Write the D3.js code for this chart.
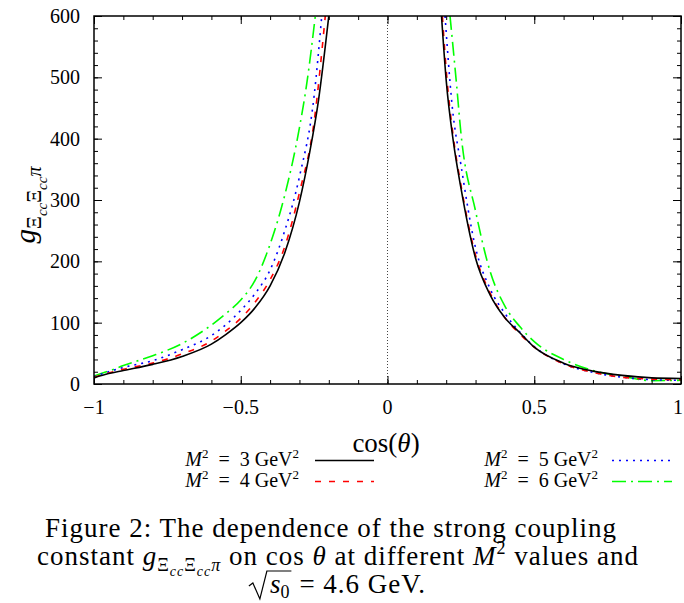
<!DOCTYPE html>
<html>
<head>
<meta charset="utf-8">
<script src="https://cdn.jsdelivr.net/npm/d3@7"></script>
<style>
  html, body { margin: 0; padding: 0; background: #fff; }
  svg { display: block; }
  text { font-family: "Liberation Serif", "DejaVu Serif", serif; fill: #000; }
</style>
</head>
<body>
<div id="chart"></div>
<script>
// Values: cos(theta) positions and coupling values, one pair of arrays per branch.
var xTickValues = [-1, -0.5, 0, 0.5, 1];
var xTickLabels = ["\u22121", "\u22120.5", "0", "0.5", "1"];
var yTickValues = [0, 100, 200, 300, 400, 500, 600];
var yTickLabels = ["0", "100", "200", "300", "400", "500", "600"];

var seriesNames = ["3", "4", "5", "6"];     // M^2 in GeV^2

// M^2 = 3 GeV^2 (black, solid)
var cosLeft3  = [-1, -0.95, -0.9, -0.8, -0.7, -0.6, -0.55, -0.5, -0.45, -0.4, -0.35, -0.3, -0.265, -0.235, -0.2];
var gLeft3    = [10, 17, 22, 32, 45, 65, 81, 100, 125, 160, 214, 297, 378, 463, 600];
var cosRight3 = [0.184, 0.2, 0.225, 0.25, 0.3, 0.35, 0.4, 0.45, 0.5, 0.6, 0.7, 0.8, 0.9, 1];
var gRight3   = [600, 495, 393, 320, 205, 145, 108, 84, 60, 34, 21, 14, 10, 9];

// M^2 = 4 GeV^2 (red, dashed)
var cosLeft4  = [-1, -0.95, -0.9, -0.8, -0.7, -0.6, -0.55, -0.5, -0.45, -0.4, -0.35, -0.3, -0.25, -0.212];
var gLeft4    = [11, 18, 24, 34, 49, 70, 87, 107, 134, 170, 224, 312, 428, 600];
var cosRight4 = [0.187, 0.2, 0.225, 0.25, 0.3, 0.35, 0.4, 0.45, 0.5, 0.6, 0.7, 0.8, 0.9, 1];
var gRight4   = [600, 512, 400, 325, 210, 148, 108, 82, 60, 33, 19, 11, 8, 7];

// M^2 = 5 GeV^2 (blue, dotted)
var cosLeft5  = [-1, -0.95, -0.9, -0.8, -0.7, -0.6, -0.55, -0.5, -0.45, -0.4, -0.35, -0.3, -0.25, -0.224];
var gLeft5    = [12, 20, 27, 38, 56, 79, 97, 120, 148, 186, 250, 338, 470, 600];
var cosRight5 = [0.196, 0.22, 0.25, 0.3, 0.35, 0.4, 0.45, 0.5, 0.6, 0.7, 0.8, 0.9, 1];
var gRight5   = [600, 455, 358, 222, 155, 115, 85, 61, 33, 19, 11, 7, 6];

// M^2 = 6 GeV^2 (green, dash-dot)
var cosLeft6  = [-1, -0.95, -0.9, -0.8, -0.7, -0.6, -0.55, -0.5, -0.45, -0.4, -0.35, -0.3, -0.275, -0.246];
var gLeft6    = [13, 21, 30, 46, 66, 96, 115, 137, 170, 228, 308, 418, 490, 600];
var cosRight6 = [0.213, 0.235, 0.25, 0.3, 0.35, 0.4, 0.45, 0.5, 0.6, 0.7, 0.8, 0.9, 1];
var gRight6   = [600, 490, 410, 282, 183, 127, 94, 69, 40, 22, 12.5, 5.5, 6];

var leftX  = [cosLeft3, cosLeft4, cosLeft5, cosLeft6],
    leftY  = [gLeft3, gLeft4, gLeft5, gLeft6],
    rightX = [cosRight3, cosRight4, cosRight5, cosRight6],
    rightY = [gRight3, gRight4, gRight5, gRight6];

var lineColors = ["#000000", "#ff0000", "#0000ff", "#00ff00"],
    lineDashes = [null, "6,8", "2,5", "14,5,2,5"];

var width = 684, height = 603;
var plotLeft = 94, plotRight = 681, plotTop = 16, plotBottom = 384;

var svg = d3.select("#chart").append("svg")
            .attr("width", width)
            .attr("height", height);

var x = d3.scaleLinear().domain([-1, 1]).range([plotLeft, plotRight]);
var y = d3.scaleLinear().domain([0, 600]).range([plotBottom, plotTop]);

svg.append("clipPath").attr("id", "plotclip")
   .append("rect")
   .attr("x", plotLeft).attr("y", plotTop)
   .attr("width", plotRight - plotLeft).attr("height", plotBottom - plotTop);

// Dotted zero line
svg.append("line")
   .attr("x1", x(0)).attr("x2", x(0))
   .attr("y1", plotTop).attr("y2", plotBottom)
   .attr("stroke", "#444")
   .attr("stroke-width", 1)
   .attr("stroke-dasharray", "1,2");

// Curves, both branches per series
var line = d3.line()
             .x(function(d) { return x(d[0]); })
             .y(function(d) { return y(d[1]); })
             .curve(d3.curveMonotoneX);

var curves = svg.append("g").attr("clip-path", "url(#plotclip)");
for (var s = seriesNames.length - 1; s >= 0; s--) {
    var branches = [d3.zip(leftX[s], leftY[s]), d3.zip(rightX[s], rightY[s])];
    branches.forEach(function(pts) {
        curves.append("path")
              .attr("d", line(pts))
              .attr("fill", "none")
              .attr("stroke", lineColors[s])
              .attr("stroke-width", 1.6)
              .attr("stroke-dasharray", lineDashes[s]);
    });
}

// Axes: ticks pointing inward on all four sides
var xMinor = d3.range(-1, 1.0001, 0.1);
var yMinor = d3.range(0, 600.001, 20);

function tickAxis(axisFn, scale, values, size, pos) {
    return svg.append("g")
              .attr("transform", pos)
              .call(axisFn(scale).tickValues(values).tickSize(size).tickFormat(""))
              .call(function(g) { g.select(".domain").remove(); })
              .call(function(g) { g.selectAll("line").attr("stroke", "#000").attr("stroke-width", 1); });
}
tickAxis(d3.axisTop, x, xMinor, 4, "translate(0," + plotBottom + ")");
tickAxis(d3.axisTop, x, xTickValues, 8, "translate(0," + plotBottom + ")");
tickAxis(d3.axisBottom, x, xMinor, 4, "translate(0," + plotTop + ")");
tickAxis(d3.axisBottom, x, xTickValues, 8, "translate(0," + plotTop + ")");
tickAxis(d3.axisRight, y, yMinor, 4, "translate(" + plotLeft + ",0)");
tickAxis(d3.axisRight, y, yTickValues, 8, "translate(" + plotLeft + ",0)");
tickAxis(d3.axisLeft, y, yMinor, 4, "translate(" + plotRight + ",0)");
tickAxis(d3.axisLeft, y, yTickValues, 8, "translate(" + plotRight + ",0)");

svg.append("rect")
   .attr("x", plotLeft).attr("y", plotTop)
   .attr("width", plotRight - plotLeft).attr("height", plotBottom - plotTop)
   .attr("fill", "none")
   .attr("stroke", "#000")
   .attr("stroke-width", 1.5);

// Tick labels
svg.selectAll(".xlab").data(xTickValues).enter().append("text")
   .attr("x", function(d) { return Math.min(x(d), 678); })
   .attr("y", 414)
   .attr("text-anchor", "middle")
   .attr("font-size", 20)
   .text(function(d, i) { return xTickLabels[i]; });

svg.selectAll(".ylab").data(yTickValues).enter().append("text")
   .attr("x", 80)
   .attr("y", function(d) { return y(d) + 7; })
   .attr("text-anchor", "end")
   .attr("font-size", 20)
   .text(function(d, i) { return yTickLabels[i]; });

// Axis titles
var xt = svg.append("text")
            .attr("x", 386).attr("y", 452)
            .attr("text-anchor", "middle")
            .attr("font-size", 27);
xt.append("tspan").text("cos(");
xt.append("tspan").attr("font-style", "italic").text("\u03b8");
xt.append("tspan").text(")");

// g with subscript Xi_cc Xi_cc pi; used for y title and caption. Returns the baseline drop.
function couplingSymbol(t, big, small, tiny) {
    var s1 = big * 0.22, s2 = tiny * 0.35;
    t.append("tspan").attr("font-style", "italic").attr("font-size", big).text("g");
    t.append("tspan").attr("font-size", small).attr("dy", s1).text("\u039e");
    t.append("tspan").attr("font-style", "italic").attr("font-size", tiny).attr("dy", s2).text("cc");
    t.append("tspan").attr("font-size", small).attr("dy", -s2).text("\u039e");
    t.append("tspan").attr("font-style", "italic").attr("font-size", tiny).attr("dy", s2).text("cc");
    t.append("tspan").attr("font-style", "italic").attr("font-size", small).attr("dy", -s2).text("\u03c0");
    return s1;
}

var yt = svg.append("text")
            .attr("transform", "translate(35,205) rotate(-90)")
            .attr("text-anchor", "middle");
couplingSymbol(yt, 29, 20, 15);

// Legend
function legendLabel(xEnd, yPos, val) {
    var t = svg.append("text")
               .attr("x", xEnd).attr("y", yPos)
               .attr("text-anchor", "end")
               .attr("font-size", 20);
    t.append("tspan").attr("font-style", "italic").text("M");
    t.append("tspan").attr("font-size", 13).attr("dy", -8).text("2");
    t.append("tspan").attr("dy", 8).text("\u2002=\u2002" + val + " GeV");
    t.append("tspan").attr("font-size", 13).attr("dy", -8).text("2");
}
var legendPos = [[299, 315, 374, 466], [299, 315, 374, 487], [598, 612, 672, 466], [598, 612, 672, 487]];
seriesNames.forEach(function(name, i) {
    var p = legendPos[i];
    legendLabel(p[0], p[3], name);
    svg.append("line")
       .attr("x1", p[1]).attr("x2", p[2])
       .attr("y1", p[3] - 5.5).attr("y2", p[3] - 5.5)
       .attr("stroke", lineColors[i])
       .attr("stroke-width", 1.6)
       .attr("stroke-dasharray", lineDashes[i]);
});

// Caption
var capSize = 27, capCenter = 337;
svg.append("text")
   .attr("x", 331).attr("y", 537)
   .attr("text-anchor", "middle")
   .attr("font-size", capSize)
   .attr("letter-spacing", 1)
   .text("Figure 2: The dependence of the strong coupling");

var c2 = svg.append("text")
            .attr("x", 338).attr("y", 565)
            .attr("text-anchor", "middle")
            .attr("font-size", capSize)
            .attr("letter-spacing", 1);
c2.append("tspan").text("constant ");
var drop = couplingSymbol(c2, capSize, 18, 14);
c2.append("tspan").attr("dy", -drop).text(" on cos ");
c2.append("tspan").attr("font-style", "italic").text("\u03b8");
c2.append("tspan").text(" at different ");
c2.append("tspan").attr("font-style", "italic").text("M");
c2.append("tspan").attr("font-size", 18).attr("dy", -11).text("2");
c2.append("tspan").attr("dy", 11).text(" values and");

// Third line: sqrt(s0) drawn with its own radical sign
var c3 = svg.append("g");
var sText = c3.append("text").attr("x", 22).attr("y", 0).attr("font-size", capSize);
sText.append("tspan").attr("font-style", "italic").text("s");
sText.append("tspan").attr("font-size", 18).attr("dy", 5).text("0");
var sw = sText.node().getComputedTextLength();
var rest = c3.append("text")
             .attr("x", 22 + sw + 10).attr("y", 0)
             .attr("font-size", capSize)
             .attr("letter-spacing", 1)
             .text("= 4.6 GeV.");
var total = 22 + sw + 10 + rest.node().getComputedTextLength();
c3.append("path")
  .attr("d", "M1,-7 L5,-10 L12,6 L19,-22 H" + (22 + sw + 2))
  .attr("fill", "none")
  .attr("stroke", "#000")
  .attr("stroke-width", 1.2);
c3.attr("transform", "translate(" + (capCenter - total / 2) + ",593)");
</script>
</body>
</html>
